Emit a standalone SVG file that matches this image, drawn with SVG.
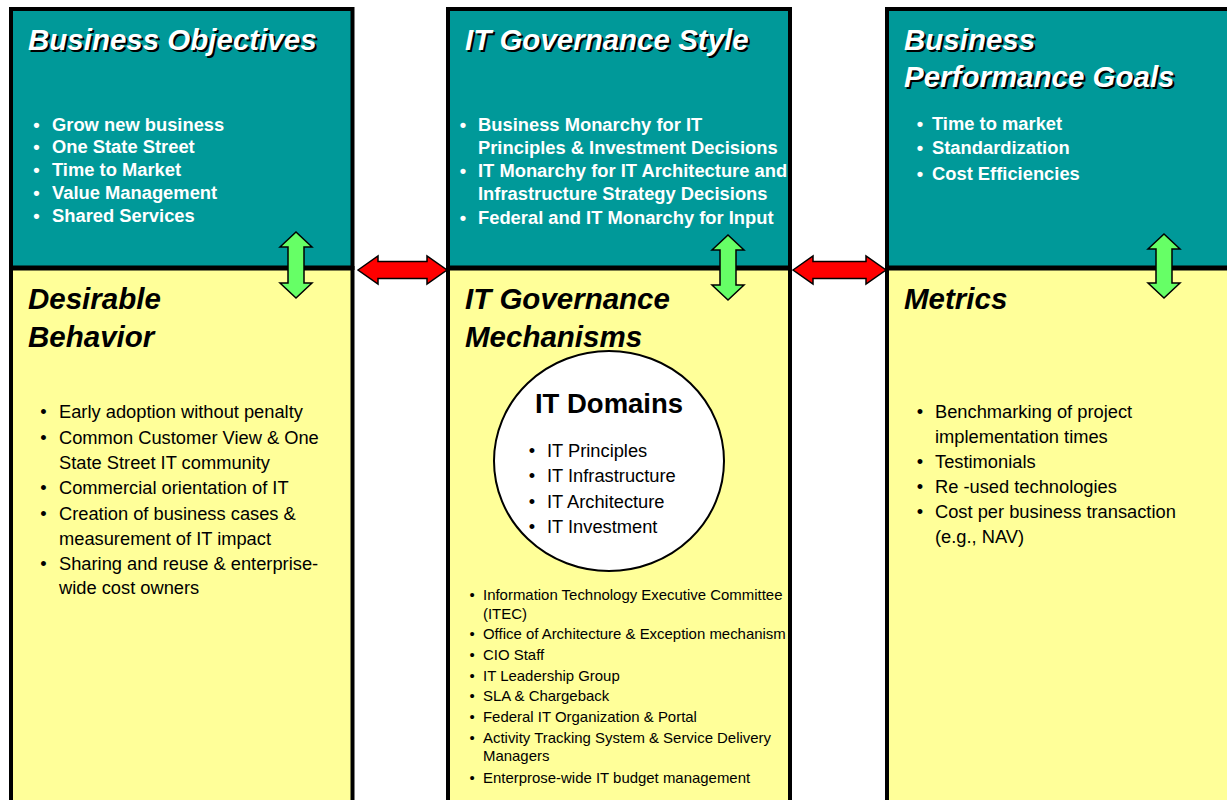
<svg xmlns="http://www.w3.org/2000/svg" width="1227" height="800" viewBox="0 0 1227 800">
<style>
.teal{fill:#009999;stroke:#000;stroke-width:4}
.yel{fill:#FFFF99;stroke:#000;stroke-width:4}
.div{stroke:#000;stroke-width:5}
.t{font-family:"Liberation Sans",Arial,sans-serif;font-weight:bold;font-style:italic;font-size:29.5px}
.tw{fill:#fff}
.ts{fill:#000}
.bw{font-family:"Liberation Sans",Arial,sans-serif;font-weight:bold;font-size:18.35px;fill:#fff}
.n{font-family:"Liberation Sans",Arial,sans-serif;font-size:18.3px;fill:#000}
.s{font-family:"Liberation Sans",Arial,sans-serif;font-size:14.95px;fill:#000}
.dom{font-family:"Liberation Sans",Arial,sans-serif;font-weight:bold;font-size:27.5px;fill:#000}
.c{text-anchor:middle}
.red{fill:#FF0000;stroke:#000;stroke-width:1.5;stroke-linejoin:miter}
.grn{fill:#66FF66;stroke:#000;stroke-width:1.5;stroke-linejoin:miter}
</style>

<g id="business-objectives">
<rect class="teal" x="11" y="9" width="341.5" height="259"/>
<text class="t ts" x="30" y="51.5">Business Objectives</text>
<text class="t tw" x="28" y="49.5">Business Objectives</text>
<g class="bw">
<text class="c" x="36.5" y="131">•</text><text x="52" y="131">Grow new business</text>
<text class="c" x="36.5" y="153">•</text><text x="52" y="153">One State Street</text>
<text class="c" x="36.5" y="176">•</text><text x="52" y="176">Time to Market</text>
<text class="c" x="36.5" y="199">•</text><text x="52" y="199">Value Management</text>
<text class="c" x="36.5" y="222">•</text><text x="52" y="222">Shared Services</text>
</g>
</g>

<g id="desirable-behavior">
<rect class="yel" x="11" y="268" width="341.5" height="540"/>
<text class="t ts" x="28" y="308.5">Desirable</text>
<text class="t ts" x="28" y="346.5">Behavior</text>
<g class="n">
<text class="c" x="43.5" y="418">•</text><text x="59" y="418">Early adoption without penalty</text>
<text class="c" x="43.5" y="444">•</text><text x="59" y="444">Common Customer View &amp; One</text>
<text x="59" y="469">State Street IT community</text>
<text class="c" x="43.5" y="494">•</text><text x="59" y="494">Commercial orientation of IT</text>
<text class="c" x="43.5" y="520">•</text><text x="59" y="520">Creation of business cases &amp;</text>
<text x="59" y="545">measurement of IT impact</text>
<text class="c" x="43.5" y="570">•</text><text x="59" y="570">Sharing and reuse &amp; enterprise-</text>
<text x="59" y="594">wide cost owners</text>
</g>
</g>

<g id="it-governance-style">
<rect class="teal" x="448" y="9" width="342" height="259"/>
<text class="t ts" x="467" y="51.5">IT Governance Style</text>
<text class="t tw" x="465" y="49.5">IT Governance Style</text>
<g class="bw">
<text class="c" x="463" y="131">•</text><text x="478" y="131">Business Monarchy for IT</text>
<text x="478" y="154">Principles &amp; Investment Decisions</text>
<text class="c" x="463" y="177">•</text><text x="478" y="177">IT Monarchy for IT Architecture and</text>
<text x="478" y="200">Infrastructure Strategy Decisions</text>
<text class="c" x="463" y="224">•</text><text x="478" y="224">Federal and IT Monarchy for Input</text>
</g>
</g>

<g id="it-governance-mechanisms">
<rect class="yel" x="448" y="268" width="342" height="540"/>
<text class="t ts" x="465" y="308.5">IT Governance</text>
<text class="t ts" x="465" y="346.5">Mechanisms</text>
<g class="s">
<text class="c" x="472" y="600">•</text><text x="483" y="600">Information Technology Executive Committee</text>
<text x="483" y="619">(ITEC)</text>
<text class="c" x="472" y="639">•</text><text x="483" y="639">Office of Architecture &amp; Exception mechanism</text>
<text class="c" x="472" y="660">•</text><text x="483" y="660">CIO Staff</text>
<text class="c" x="472" y="681">•</text><text x="483" y="681">IT Leadership Group</text>
<text class="c" x="472" y="701">•</text><text x="483" y="701">SLA &amp; Chargeback</text>
<text class="c" x="472" y="722">•</text><text x="483" y="722">Federal IT Organization &amp; Portal</text>
<text class="c" x="472" y="743">•</text><text x="483" y="743">Activity Tracking System &amp; Service Delivery</text>
<text x="483" y="761">Managers</text>
<text class="c" x="472" y="783">•</text><text x="483" y="783">Enterprose-wide IT budget management</text>
</g>
</g>

<g id="it-domains">
<ellipse cx="609" cy="461" rx="115" ry="110" fill="#fff" stroke="#000" stroke-width="2"/>
<text class="dom c" x="609" y="413">IT Domains</text>
<g class="n">
<text class="c" x="532" y="457">•</text><text x="547" y="457">IT Principles</text>
<text class="c" x="532" y="482">•</text><text x="547" y="482">IT Infrastructure</text>
<text class="c" x="532" y="508">•</text><text x="547" y="508">IT Architecture</text>
<text class="c" x="532" y="533">•</text><text x="547" y="533">IT Investment</text>
</g>
</g>

<g id="business-performance-goals">
<rect class="teal" x="887" y="9" width="345" height="259"/>
<text class="t ts" x="906" y="52">Business</text>
<text class="t tw" x="904" y="50">Business</text>
<text class="t ts" x="906" y="89">Performance Goals</text>
<text class="t tw" x="904" y="87">Performance Goals</text>
<g class="bw">
<text class="c" x="920" y="130">•</text><text x="932" y="130">Time to market</text>
<text class="c" x="920" y="154">•</text><text x="932" y="154">Standardization</text>
<text class="c" x="920" y="180">•</text><text x="932" y="180">Cost Efficiencies</text>
</g>
</g>

<g id="metrics">
<rect class="yel" x="887" y="268" width="345" height="540"/>
<text class="t ts" x="904" y="308.5">Metrics</text>
<g class="n">
<text class="c" x="920" y="418">•</text><text x="935" y="418">Benchmarking of project</text>
<text x="935" y="443">implementation times</text>
<text class="c" x="920" y="468">•</text><text x="935" y="468">Testimonials</text>
<text class="c" x="920" y="493">•</text><text x="935" y="493">Re -used technologies</text>
<text class="c" x="920" y="518">•</text><text x="935" y="518">Cost per business transaction</text>
<text x="935" y="543">(e.g., NAV)</text>
</g>
</g>

<g id="dividers">
<line class="div" x1="11" y1="268" x2="352.5" y2="268"/>
<line class="div" x1="448" y1="268" x2="790" y2="268"/>
<line class="div" x1="887" y1="268" x2="1232" y2="268"/>
</g>

<g id="connectors">
<path class="red" d="M358,270 L378,256 L378,261.5 L427,261.5 L427,256 L447,270 L427,284 L427,278.5 L378,278.5 L378,284 Z"/>
<path class="red" d="M793,270 L813,256 L813,261.5 L866,261.5 L866,256 L886,270 L866,284 L866,278.5 L813,278.5 L813,284 Z"/>
<path class="grn" d="M296,232 L312,247 L304,247 L304,283 L312,283 L296,298 L280,283 L288,283 L288,247 L280,247 Z"/>
<path class="grn" d="M728,235 L744,250 L736,250 L736,285 L744,285 L728,300 L712,285 L720,285 L720,250 L712,250 Z"/>
<path class="grn" d="M1164,234 L1180,249 L1172,249 L1172,283 L1180,283 L1164,298 L1148,283 L1156,283 L1156,249 L1148,249 Z"/>
</g>
</svg>
